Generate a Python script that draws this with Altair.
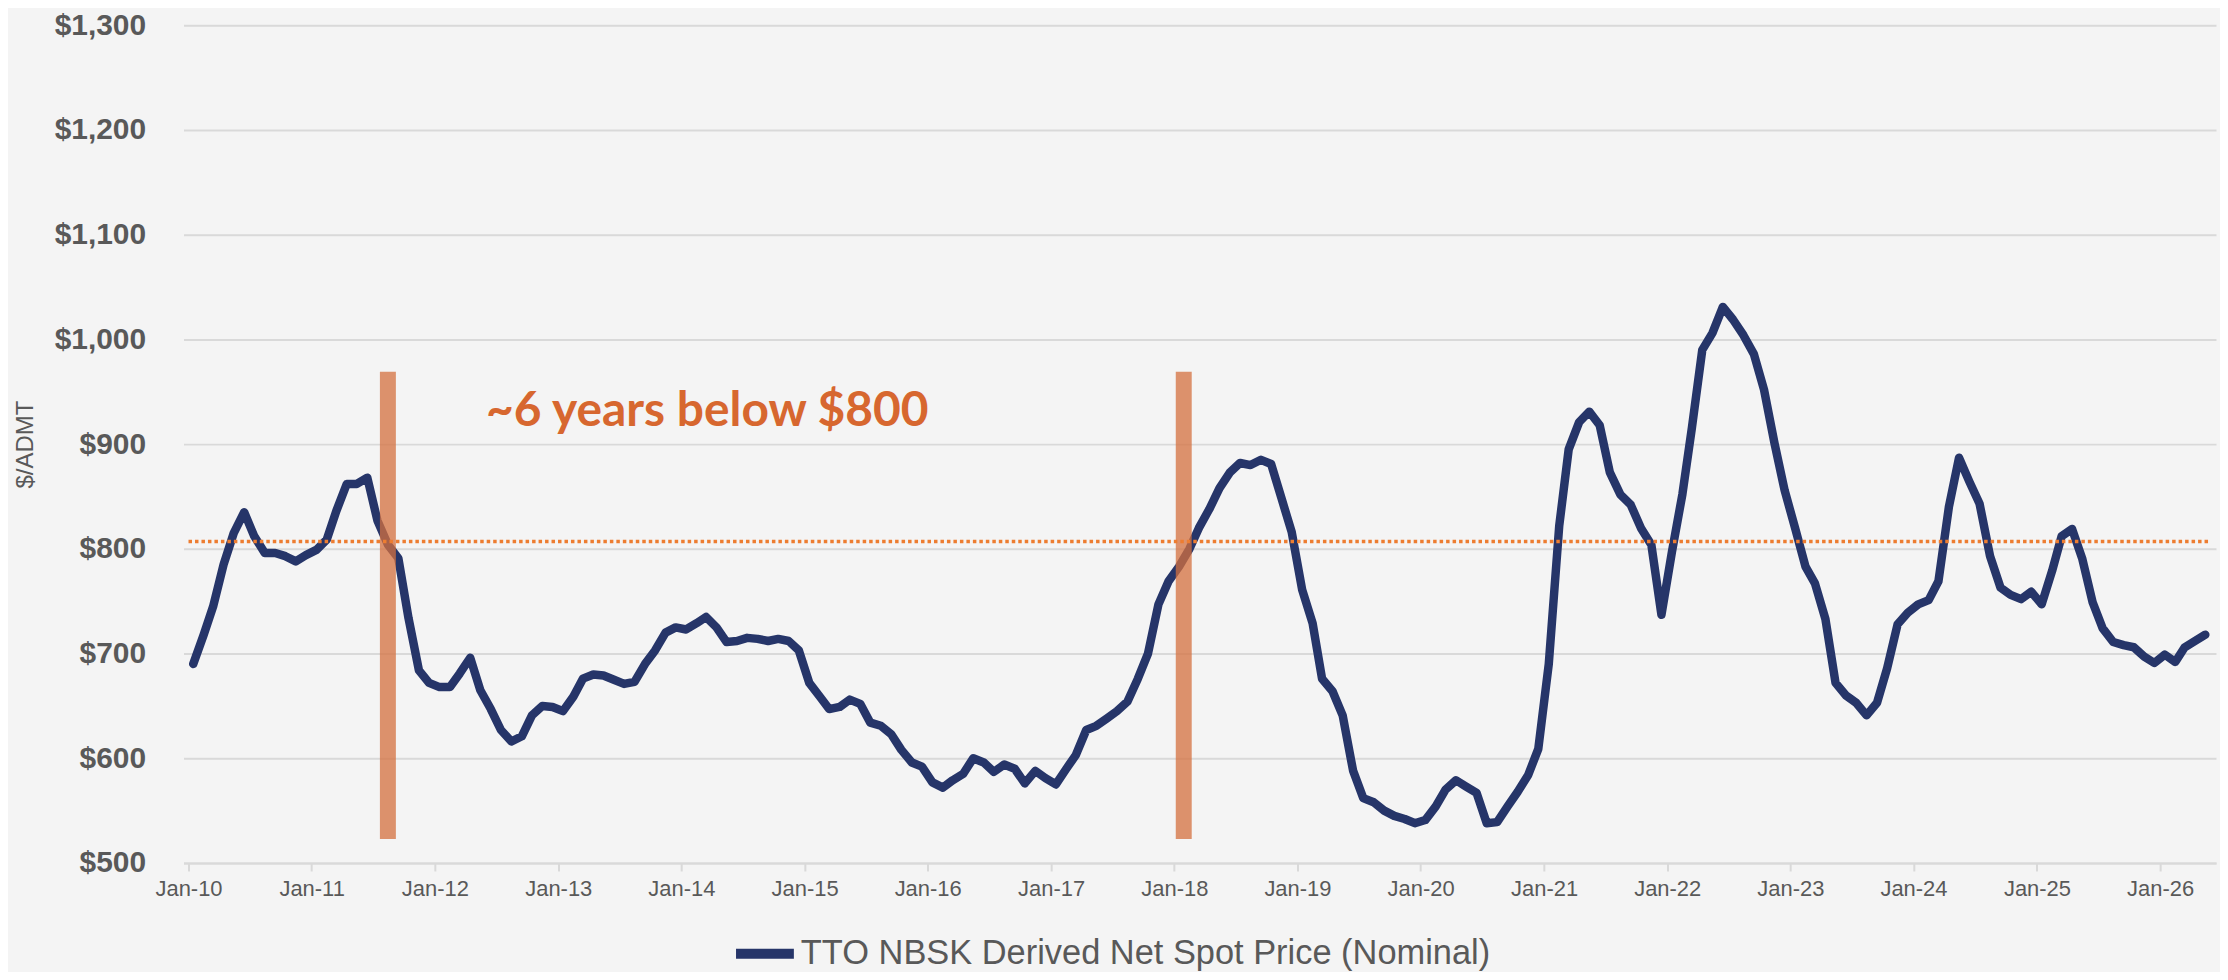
import altair as alt
import pandas as pd

# Monthly TTO NBSK derived net spot price (nominal), $/ADMT, Jan-2010 .. May-2026
price_2010 = [690, 718, 745, 785, 815, 835, 812, 796, 796, 793, 788, 794]
price_2011 = [799, 809, 836, 862, 862, 868, 827, 804, 791, 734, 684, 672]
price_2012 = [668, 668, 681, 696, 665, 647, 627, 616, 621, 641, 650, 649]
price_2013 = [645, 659, 676, 680, 679, 675, 671, 673, 690, 703, 720, 725]
price_2014 = [723, 729, 735, 725, 711, 712, 715, 714, 712, 714, 712, 703]
price_2015 = [672, 659, 647, 649, 656, 652, 634, 631, 623, 608, 596, 592]
price_2016 = [577, 572, 579, 585, 600, 596, 587, 594, 590, 576, 588, 581]
price_2017 = [575, 590, 603, 627, 631, 638, 645, 654, 676, 700, 747, 769]
price_2018 = [783, 800, 820, 838, 858, 873, 882, 880, 885, 881, 848, 816]
price_2019 = [761, 729, 676, 664, 641, 588, 562, 558, 550, 545, 542, 538]
price_2020 = [541, 554, 570, 579, 573, 567, 538, 539, 554, 568, 584, 609]
price_2021 = [690, 822, 895, 921, 931, 918, 873, 852, 842, 820, 804, 737]
price_2022 = [797, 852, 915, 990, 1006, 1031, 1019, 1004, 986, 952, 901, 856]
price_2023 = [820, 783, 767, 733, 672, 660, 653, 641, 653, 686, 728, 739]
price_2024 = [747, 751, 769, 840, 887, 864, 843, 793, 763, 756, 752, 759]
price_2025 = [747, 779, 812, 819, 791, 749, 724, 711, 708, 706, 697, 691]
price_2026 = [699, 692, 706, 712, 718]

years = list(range(2010, 2027))
yearly = [price_2010, price_2011, price_2012, price_2013, price_2014, price_2015,
          price_2016, price_2017, price_2018, price_2019, price_2020, price_2021,
          price_2022, price_2023, price_2024, price_2025, price_2026]

series_name = "TTO NBSK Derived Net Spot Price (Nominal)"

# Highlight bars marking the period below $800
bar_dates = ["2011-08-15T00:00:00", "2018-01-29T00:00:00"]
bar_top = [969, 969]
bar_bottom = [523, 523]

# Reference level
ref_level = [807]
ref_start = ["2010-01-01T00:00:00"]
ref_end = ["2026-06-01T00:00:00"]

# Annotation
note_text = ["~6 years below $800"]
note_date = ["2012-06-01T00:00:00"]
note_value = [917]

y_ticks = [500, 600, 700, 800, 900, 1000, 1100, 1200, 1300]

rows = []
for y, vals in zip(years, yearly):
    for m, v in enumerate(vals, start=1):
        rows.append({"date": f"{y}-{m:02d}-15T00:00:00", "price": v, "series": series_name})
df = pd.DataFrame(rows)

bars_df = pd.DataFrame({"date": bar_dates, "top": bar_top, "bottom": bar_bottom})
ref_df = pd.DataFrame({"start": ref_start, "end": ref_end, "level": ref_level})
note_df = pd.DataFrame({"date": note_date, "value": note_value, "text": note_text})

x_scale = alt.Scale(domain=[alt.DateTime(year=2010, month=1, date=1),
                            alt.DateTime(year=2026, month=6, date=1)])
y_scale = alt.Scale(domain=[500, 1300], nice=False, zero=False)

x_axis = alt.Axis(
    values=[alt.DateTime(year=y, month=1, date=1) for y in years],
    format="%b-%y", title=None, grid=False,
    labelFont="Liberation Sans", labelFontSize=22, labelColor="#595959",
    labelPadding=8, tickSize=8, tickColor="#D9D9D9", tickWidth=2,
    domainColor="#D9D9D9", domainWidth=2,
)
y_axis = alt.Axis(
    values=y_ticks, format="$,.0f", title="$/ADMT",
    labelFont="Liberation Sans", labelFontWeight="bold", labelFontSize=30,
    labelColor="#595959", labelPadding=38, ticks=False, domain=False,
    gridColor="#D9D9D9", gridWidth=2,
    titleFont="Liberation Sans", titleFontWeight="normal", titleFontSize=24,
    titleColor="#595959", titleX=-158, titleY=420, titleAngle=270,
    titleAlign="center", titleBaseline="middle",
)

line = alt.Chart(df).mark_line(strokeWidth=8.5, strokeJoin="round", strokeCap="round").encode(
    x=alt.X("date:T", scale=x_scale, axis=x_axis),
    y=alt.Y("price:Q", scale=y_scale, axis=y_axis),
    color=alt.Color("series:N", scale=alt.Scale(range=["#263569"]),
                    legend=alt.Legend(
                        title=None, orient="none", legendX=549, legendY=897,
                        direction="horizontal", symbolType="stroke",
                        symbolSize=3364, symbolStrokeWidth=10,
                        labelFont="Liberation Sans", labelFontSize=34.5,
                        labelColor="#595959", labelOffset=2, labelLimit=1200,
                        padding=0,
                    )),
)

bars = alt.Chart(bars_df).mark_bar(size=16, color="#D4703F", opacity=0.75).encode(
    x="date:T",
    y="top:Q",
    y2="bottom:Q",
)

rule = alt.Chart(ref_df).mark_rule(color="#ED7D31", strokeWidth=3.5, strokeDash=[3.5, 3]).encode(
    x="start:T",
    x2="end:T",
    y="level:Q",
)

note = alt.Chart(note_df).mark_text(
    align="left", baseline="alphabetic", font="Lato", fontWeight="bold",
    fontSize=48, color="#D7672F",
).encode(
    x="date:T",
    y="value:Q",
    text="text:N",
)

chart = alt.layer(line, bars, rule, note).properties(
    width=2038, height=840,
    autosize=alt.AutoSizeParams(type="none"),
    padding={"left": 176, "top": 16, "right": 4, "bottom": 108},
    background="#F4F4F4",
).configure_view(strokeWidth=0)

chart.save("out.html", embed_options={"renderer": "svg", "actions": False})
